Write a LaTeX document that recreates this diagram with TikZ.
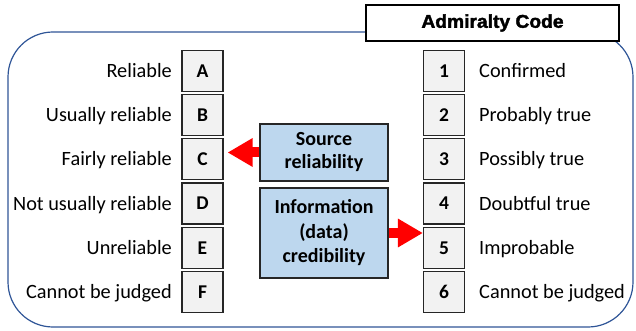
\documentclass[tikz,border=0pt]{standalone}
\usepackage{fontspec}
\setmainfont{Carlito}
\newfontfamily\titlefont{Liberation Sans}[UprightFont=* Bold, FakeBold=2, FakeStretch=1.04]
\usetikzlibrary{arrows.meta}
\definecolor{frameblue}{RGB}{47,85,151}
\definecolor{infoblue}{RGB}{189,215,238}
\definecolor{boxgray}{RGB}{242,242,242}
\begin{document}
\begin{tikzpicture}[x=1pt,y=-1pt]
            \tikzstyle{arrow}=[red,line width=10pt,-{Triangle[length=25pt,width=27pt]}]
            \tikzstyle{code}=[draw=black!85,fill=boxgray,line width=1.2pt,minimum width=41pt,minimum height=41pt,inner sep=0pt,font=\fontsize{19.5}{21}\selectfont\bfseries]
            \tikzstyle{lbl}=[inner sep=0pt,font=\fontsize{20.3}{23}\selectfont]
            \tikzstyle{rating}=[draw=black!85,fill=infoblue,line width=1.2pt,minimum width=128pt,align=center,font=\fontsize{20}{24.5}\selectfont\bfseries]
            \useasboundingbox (0,0) rectangle (636,331);
            % frame and title
            \draw[frameblue,line width=1.2pt,rounded corners=45pt] (8,32) rectangle (633,327);
            \node[draw,fill=white,line width=1.2pt,minimum width=253pt,minimum height=36pt,font=\titlefont\fontsize{18.5}{20}\selectfont] (title) at (492.5,23) {Admiralty Code};
            % source reliability
            \node[code] (A) at (202.5,71) {A};
            \node[lbl,anchor=base east] (lA) at (172,77.5) {Reliable};
            \node[code] (B) at (202.5,115) {B};
            \node[lbl,anchor=base east] (lB) at (172,121.5) {Usually reliable};
            \node[code] (C) at (202.5,159) {C};
            \node[lbl,anchor=base east] (lC) at (172,165.5) {Fairly reliable};
            \node[code] (D) at (202.5,203.5) {D};
            \node[lbl,anchor=base east] (lD) at (172,210) {Not usually reliable};
            \node[code] (E) at (202.5,248) {E};
            \node[lbl,anchor=base east] (lE) at (172,254.5) {Unreliable};
            \node[code] (F) at (202.5,292) {F};
            \node[lbl,anchor=base east] (lF) at (172,298.5) {Cannot be judged};
            % information credibility
            \node[code] (n1) at (444,71) {1};
            \node[lbl,anchor=base west] (l1) at (479,77.5) {Confirmed};
            \node[code] (n2) at (444,115) {2};
            \node[lbl,anchor=base west] (l2) at (479,121.5) {Probably true};
            \node[code] (n3) at (444,159) {3};
            \node[lbl,anchor=base west] (l3) at (479,165.5) {Possibly true};
            \node[code] (n4) at (444,203.5) {4};
            \node[lbl,anchor=base west] (l4) at (479,210) {Doubtful true};
            \node[code] (n5) at (444,248) {5};
            \node[lbl,anchor=base west] (l5) at (479,254.5) {Improbable};
            \node[code] (n6) at (444,292) {6};
            \node[lbl,anchor=base west] (l6) at (479,298.5) {Cannot be judged};
            % middle boxes
            \node[rating,minimum height=57pt,font=\fontsize{20}{23}\selectfont\bfseries] (src) at (324,152.5) {Source\\reliability};
            \node[rating,minimum height=90pt] (cred) at (324,233) {Information\\(data)\\credibility};
            % arrows
            \draw [arrow] (src.west) -- ([xshift=4pt]C.east |- src.west);
            \draw [arrow] (cred.east) -- (n5.west |- cred.east);
        \end{tikzpicture}
\end{document}
